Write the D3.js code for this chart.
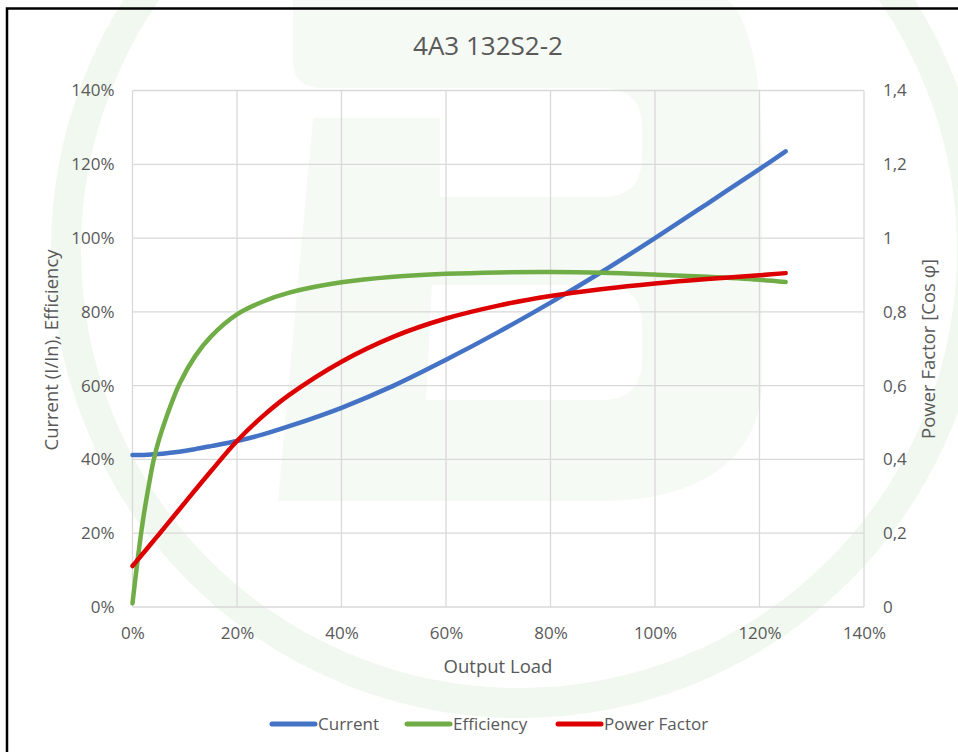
<!DOCTYPE html>
<html>
<head>
<meta charset="utf-8">
<script src="https://cdn.jsdelivr.net/npm/d3@7"></script>
<style>
  body { margin: 0; background: #fff; }
  svg text { font-family: "Open Sans", "Noto Sans", sans-serif; fill: #595959; }
</style>
</head>
<body>
<svg id="chart" width="958" height="752"></svg>
<script>
// Output load (%) sample points
const load = [0, 1, 2, 3, 4, 5, 6.5, 9, 12, 15, 20, 25, 30, 40, 50, 60, 70, 80, 90, 100, 110, 120, 125];
// Current I/In (%)
const current = [41.2, 41.2, 41.2, 41.3, 41.4, 41.5, 41.7, 42.1, 42.8, 43.6, 45, 46.8, 49, 54, 60, 67, 74.5, 82.5, 91, 100, 109.3, 118.7, 123.5];
// Efficiency (%)
const efficiency = [1, 13, 23.5, 32, 39.5, 45, 51.5, 60.5, 68, 73.3, 79.3, 82.8, 85.2, 88, 89.5, 90.3, 90.7, 90.8, 90.6, 90.1, 89.5, 88.7, 88.1];
// Power factor (cos phi)
const powerFactor = [0.111, 0.128, 0.145, 0.162, 0.179, 0.196, 0.222, 0.265, 0.317, 0.368, 0.45, 0.518, 0.575, 0.665, 0.733, 0.782, 0.817, 0.843, 0.862, 0.877, 0.889, 0.899, 0.905];

const xTicks = [0, 20, 40, 60, 80, 100, 120, 140];
const yTicks = [0, 20, 40, 60, 80, 100, 120, 140];
const y2Ticks = [0, 0.2, 0.4, 0.6, 0.8, 1, 1.2, 1.4];

const svg = d3.select("#chart");

// background watermark (pale logo)
const wm = svg.append("g");
wm.append("circle")
  .attr("cx", 519).attr("cy", 250).attr("r", 453)
  .attr("fill", "none")
  .attr("stroke", "#f1f8ef")
  .attr("stroke-width", 30);
wm.append("path")
  .attr("fill", "#f5faf4")
  .attr("fill-rule", "evenodd")
  .attr("d", "M293,-5 H712 C748,-5 762,70 762,160 V380 C762,455 705,501 600,501 H278 L313,118 H440 V197 H602 Q642,197 642,157 V128 Q642,88 602,88 H321 Q293,88 293,60 Z " +
             "M432,285 H602 Q642,285 642,325 V360 Q642,400 602,400 H426 Z");

// frame
svg.append("path")
  .attr("d", "M7,760 V8.5 H960")
  .attr("fill", "none")
  .attr("stroke", "#000")
  .attr("stroke-width", 2.5);

const plotLeft = 132.5, plotRight = 864, plotTop = 90.5, plotBottom = 607;

const x = d3.scaleLinear().domain([0, 140]).range([plotLeft, plotRight]);
const y = d3.scaleLinear().domain([0, 140]).range([plotBottom, plotTop]);
const y2 = d3.scaleLinear().domain([0, 1.4]).range([plotBottom, plotTop]);

const comma = d3.formatLocale({ decimal: ",", thousands: ".", grouping: [3], currency: ["", ""] }).format("~g");

// gridlines
const grid = svg.append("g").attr("stroke", "#d9d9d9").attr("stroke-width", 1.3);
grid.selectAll(".gx").data(xTicks).enter().append("line")
  .attr("x1", d => x(d)).attr("x2", d => x(d))
  .attr("y1", plotTop).attr("y2", plotBottom);
grid.selectAll(".gy").data(yTicks).enter().append("line")
  .attr("x1", plotLeft).attr("x2", plotRight)
  .attr("y1", d => y(d)).attr("y2", d => y(d));

// axes (labels only)
const xAxis = svg.append("g")
  .attr("transform", `translate(0,${plotBottom})`)
  .call(d3.axisBottom(x).tickValues(xTicks).tickSize(0).tickPadding(20).tickFormat(d => d + "%"));
const yAxis = svg.append("g")
  .attr("transform", `translate(${plotLeft},0)`)
  .call(d3.axisLeft(y).tickValues(yTicks).tickSize(0).tickPadding(18).tickFormat(d => d + "%"));
const y2Axis = svg.append("g")
  .attr("transform", `translate(${plotRight},0)`)
  .call(d3.axisRight(y2).tickValues(y2Ticks).tickSize(0).tickPadding(19).tickFormat(comma));

[xAxis, yAxis, y2Axis].forEach(a => {
  a.select(".domain").remove();
  a.selectAll("text").attr("font-size", 17).attr("fill", "#595959")
    .attr("font-family", '"Open Sans", "Noto Sans", sans-serif');
});

// series lines
const series = [
  { name: "Current", values: current, color: "#4472c4", scale: y },
  { name: "Efficiency", values: efficiency, color: "#70ad47", scale: y },
  { name: "Power Factor", values: powerFactor, color: "#dd0000", scale: y2 }
];

series.forEach(s => {
  const line = d3.line()
    .x((d, i) => x(load[i]))
    .y(d => s.scale(d))
    .curve(d3.curveCatmullRom.alpha(0.5));
  svg.append("path")
    .datum(s.values)
    .attr("fill", "none")
    .attr("stroke", s.color)
    .attr("stroke-width", 4.5)
    .attr("stroke-linecap", "round")
    .attr("stroke-linejoin", "round")
    .attr("d", line);
});

// titles
svg.append("text")
  .attr("x", 488).attr("y", 55)
  .attr("text-anchor", "middle")
  .attr("font-size", 26)
  .text("4A3 132S2-2");

svg.append("text")
  .attr("x", 498).attr("y", 673)
  .attr("text-anchor", "middle")
  .attr("font-size", 18.5)
  .text("Output Load");

svg.append("text")
  .attr("transform", "translate(58,350) rotate(-90)")
  .attr("text-anchor", "middle")
  .attr("font-size", 18.5)
  .text("Current (I/In), Efficiency");

svg.append("text")
  .attr("transform", "translate(935,349) rotate(-90)")
  .attr("text-anchor", "middle")
  .attr("font-size", 18.5)
  .text("Power Factor [Cos φ]");

// legend
const legendX = [270, 405, 556];
const legend = svg.append("g");
series.forEach((s, i) => {
  const g = legend.append("g").attr("transform", `translate(${legendX[i]},724)`);
  g.append("line")
    .attr("x1", 2).attr("x2", 45)
    .attr("stroke", s.color)
    .attr("stroke-width", 5)
    .attr("stroke-linecap", "round");
  g.append("text")
    .attr("x", 48).attr("y", 6)
    .attr("font-size", 17)
    .text(s.name);
});
</script>
</body>
</html>
